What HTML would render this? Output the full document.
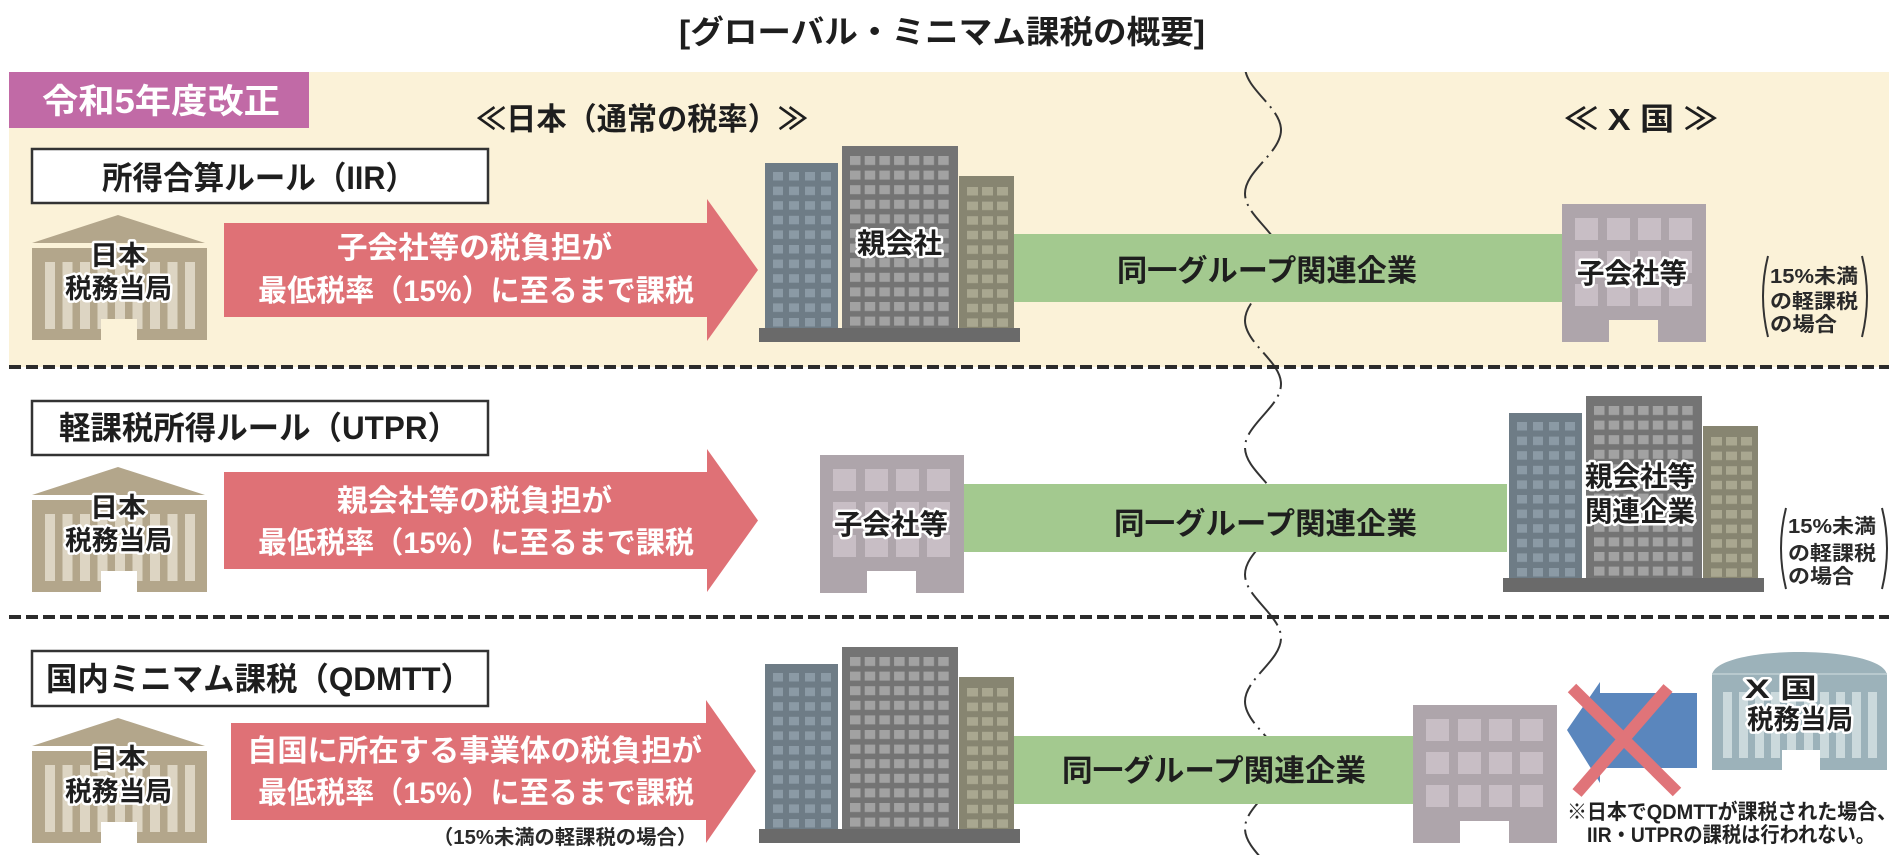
<!DOCTYPE html>
<html lang="ja">
<head>
<meta charset="utf-8">
<title>グローバル・ミニマム課税の概要</title>
<style>
  html,body{margin:0;padding:0;background:#ffffff;}
  svg{display:block;}
  .t{font-family:"Liberation Sans","Noto Sans CJK JP",sans-serif;font-weight:700;}
  .halo{stroke:#ffffff;stroke-width:5px;paint-order:stroke;stroke-linejoin:round;}
</style>
</head>
<body>
<svg width="1900" height="855" viewBox="0 0 1900 855" xmlns="http://www.w3.org/2000/svg">
  <defs>
    <pattern id="pL" patternUnits="userSpaceOnUse" x="14" y="26" width="16" height="14.6">
      <rect width="10" height="8.5" fill="#8b9aa5"/>
    </pattern>
    <pattern id="pM" patternUnits="userSpaceOnUse" x="91" y="10" width="14.7" height="14.6">
      <rect width="10.5" height="9" fill="#a2a2a2"/>
    </pattern>
    <pattern id="pR" patternUnits="userSpaceOnUse" x="208" y="41" width="15" height="14.6">
      <rect width="11" height="8.5" fill="#a9a790"/>
    </pattern>

    <!-- cluster of three office buildings (local origin = top-left of slab area) -->
    <g id="cluster">
      <rect x="6" y="17" width="73" height="166" fill="#6e7c86"/>
      <rect x="14" y="26" width="58" height="155" fill="url(#pL)"/>
      <rect x="83" y="0" width="116" height="183" fill="#747474"/>
      <rect x="91" y="10" width="99" height="170" fill="url(#pM)"/>
      <rect x="200" y="30" width="55" height="153" fill="#878571"/>
      <rect x="208" y="41" width="41" height="140" fill="url(#pR)"/>
      <rect x="0" y="182" width="261" height="14" fill="#6a6a6a"/>
    </g>

    <!-- subsidiary building -->
    <g id="sub">
      <path d="M0,0 H144 V138 H96 V116 H47 V138 H0 Z" fill="#aea5ab"/>
      <g fill="#c8bec5">
        <rect x="13" y="14" width="23" height="22"/><rect x="45" y="14" width="23" height="22"/>
        <rect x="76" y="14" width="23" height="22"/><rect x="107" y="14" width="23" height="22"/>
        <rect x="13" y="47" width="23" height="22"/><rect x="45" y="47" width="23" height="22"/>
        <rect x="76" y="47" width="23" height="22"/><rect x="107" y="47" width="23" height="22"/>
        <rect x="13" y="80" width="23" height="22"/><rect x="45" y="80" width="23" height="22"/>
        <rect x="76" y="80" width="23" height="22"/><rect x="107" y="80" width="23" height="22"/>
      </g>
    </g>

    <!-- Japan tax authority building -->
    <g id="tax">
      <polygon points="0,28 86,0 173,28" fill="#b3a68b"/>
      <rect x="0" y="33" width="175" height="92" fill="#b3a68b"/>
      <g fill="#ddd5c3">
        <rect x="13" y="47" width="10" height="67"/>
        <rect x="30.5" y="47" width="10" height="67"/>
        <rect x="48" y="47" width="10" height="67"/>
        <rect x="65.5" y="47" width="10" height="67"/>
        <rect x="83" y="47" width="10" height="67"/>
        <rect x="100.5" y="47" width="10" height="67"/>
        <rect x="118" y="47" width="10" height="67"/>
        <rect x="135.5" y="47" width="10" height="67"/>
        <rect x="153" y="47" width="10" height="67"/>
      </g>
      <text class="t halo" x="58" y="50" textLength="56" lengthAdjust="spacingAndGlyphs" font-size="27" fill="#1e1e1e">日本</text>
      <text class="t halo" x="33" y="83" textLength="107" lengthAdjust="spacingAndGlyphs" font-size="27" fill="#1e1e1e">税務当局</text>
    </g>

    <clipPath id="waveclip"><rect x="0" y="72" width="1900" height="790"/></clipPath>
  </defs>

  <!-- background of row 1 -->
  <rect x="9" y="72" width="1880" height="295" fill="#fbf2d8"/>

  <!-- title -->
  <text class="t" x="679" y="43" textLength="526" lengthAdjust="spacingAndGlyphs" font-size="32" fill="#1e1e1e">[グローバル・ミニマム課税の概要]</text>

  <!-- pink tag -->
  <rect x="9" y="72" width="300" height="56" fill="#c16aa6"/>
  <text class="t" x="42" y="113" textLength="238" lengthAdjust="spacingAndGlyphs" font-size="34" fill="#ffffff">令和5年度改正</text>

  <!-- column headers -->
  <text class="t" x="476" y="130" textLength="332" lengthAdjust="spacingAndGlyphs" font-size="31" fill="#1e1e1e">≪日本（通常の税率）≫</text>
  <text class="t" x="1564" y="130" textLength="154" lengthAdjust="spacingAndGlyphs" font-size="31" fill="#1e1e1e">≪ X 国 ≫</text>

  <!-- wave border line -->
  <path clip-path="url(#waveclip)" fill="none" stroke="#333333" stroke-width="2" stroke-dasharray="42 6 2 6"
    d="M1245,66.5
       C1245,89.4 1281,107.1 1281,130
       C1281,152.9 1245,170.6 1245,193.5
       C1245,216.4 1281,234.1 1281,257
       C1281,279.9 1245,297.6 1245,320.5
       C1245,343.4 1281,361.1 1281,384
       C1281,406.9 1245,424.6 1245,447.5
       C1245,470.4 1281,488.1 1281,511
       C1281,533.9 1245,551.6 1245,574.5
       C1245,597.4 1281,615.1 1281,638
       C1281,660.9 1245,678.6 1245,701.5
       C1245,724.4 1281,742.1 1281,765
       C1281,787.9 1245,805.6 1245,828.5
       C1245,851.4 1281,869.1 1281,892"/>

  <!-- separators -->
  <line x1="9" y1="367" x2="1889" y2="367" stroke="#2b2b2b" stroke-width="4" stroke-dasharray="12 5"/>
  <line x1="9" y1="617" x2="1889" y2="617" stroke="#2b2b2b" stroke-width="4" stroke-dasharray="12 5"/>

  <!-- ============ ROW 1 : IIR ============ -->
  <rect x="32" y="149" width="456" height="54" fill="#ffffff" stroke="#333333" stroke-width="2.5"/>
  <text class="t" x="102" y="189" textLength="314" lengthAdjust="spacingAndGlyphs" font-size="32" fill="#1e1e1e">所得合算ルール（IIR）</text>

  <use href="#tax" transform="translate(32,215)"/>
  <rect x="101" y="319" width="36" height="22" fill="#fbf2d8"/>

  <polygon points="224,223 707,223 707,199 758,270 707,341 707,317 224,317" fill="#df7176"/>
  <text class="t" x="337" y="258" textLength="275" lengthAdjust="spacingAndGlyphs" font-size="30" fill="#ffffff">子会社等の税負担が</text>
  <text class="t" x="258" y="301" textLength="436" lengthAdjust="spacingAndGlyphs" font-size="30" fill="#ffffff">最低税率（15%）に至るまで課税</text>

  <rect x="1014" y="234" width="548" height="68" fill="#a3c98f"/>
  <text class="t" x="1117" y="281" textLength="300" lengthAdjust="spacingAndGlyphs" font-size="30" fill="#1e1e1e">同一グループ関連企業</text>

  <use href="#cluster" transform="translate(759,146)"/>
  <text class="t halo" x="857" y="253" textLength="85" lengthAdjust="spacingAndGlyphs" font-size="28" fill="#1e1e1e">親会社</text>

  <use href="#sub" transform="translate(1562,204)"/>
  <text class="t halo" x="1577" y="283" textLength="110" lengthAdjust="spacingAndGlyphs" font-size="28" fill="#1e1e1e">子会社等</text>

  <path d="M1768,256 Q1758,296 1768,337" fill="none" stroke="#333" stroke-width="2"/>
  <path d="M1862,256 Q1872,296 1862,337" fill="none" stroke="#333" stroke-width="2"/>
  <text class="t" x="1770" y="283" textLength="88" lengthAdjust="spacingAndGlyphs" font-size="20" fill="#2a2a2a">15%未満</text>
  <text class="t" x="1770" y="308" textLength="88" lengthAdjust="spacingAndGlyphs" font-size="20" fill="#2a2a2a">の軽課税</text>
  <text class="t" x="1770" y="331" textLength="67" lengthAdjust="spacingAndGlyphs" font-size="20" fill="#2a2a2a">の場合</text>

  <!-- ============ ROW 2 : UTPR ============ -->
  <rect x="32" y="401" width="456" height="54" fill="#ffffff" stroke="#333333" stroke-width="2.5"/>
  <text class="t" x="59" y="439" textLength="400" lengthAdjust="spacingAndGlyphs" font-size="32" fill="#1e1e1e">軽課税所得ルール（UTPR）</text>

  <use href="#tax" transform="translate(32,467)"/>
  <rect x="101" y="571" width="36" height="22" fill="#ffffff"/>

  <polygon points="224,472 707,472 707,449 758,520.5 707,592 707,569 224,569" fill="#df7176"/>
  <text class="t" x="337" y="511" textLength="275" lengthAdjust="spacingAndGlyphs" font-size="30" fill="#ffffff">親会社等の税負担が</text>
  <text class="t" x="258" y="553" textLength="436" lengthAdjust="spacingAndGlyphs" font-size="30" fill="#ffffff">最低税率（15%）に至るまで課税</text>

  <rect x="963" y="484" width="544" height="68" fill="#a3c98f"/>
  <text class="t" x="1114" y="534" textLength="303" lengthAdjust="spacingAndGlyphs" font-size="30" fill="#1e1e1e">同一グループ関連企業</text>

  <use href="#sub" transform="translate(820,455)"/>
  <text class="t halo" x="834" y="534" textLength="114" lengthAdjust="spacingAndGlyphs" font-size="28" fill="#1e1e1e">子会社等</text>

  <use href="#cluster" transform="translate(1503,396)"/>
  <text class="t halo" x="1585" y="486" textLength="110" lengthAdjust="spacingAndGlyphs" font-size="28" fill="#1e1e1e">親会社等</text>
  <text class="t halo" x="1585" y="521" textLength="110" lengthAdjust="spacingAndGlyphs" font-size="28" fill="#1e1e1e">関連企業</text>

  <path d="M1786,508 Q1776,548 1786,589" fill="none" stroke="#333" stroke-width="2"/>
  <path d="M1882,508 Q1892,548 1882,589" fill="none" stroke="#333" stroke-width="2"/>
  <text class="t" x="1788" y="533" textLength="88" lengthAdjust="spacingAndGlyphs" font-size="20" fill="#2a2a2a">15%未満</text>
  <text class="t" x="1788" y="560" textLength="88" lengthAdjust="spacingAndGlyphs" font-size="20" fill="#2a2a2a">の軽課税</text>
  <text class="t" x="1788" y="583" textLength="66" lengthAdjust="spacingAndGlyphs" font-size="20" fill="#2a2a2a">の場合</text>

  <!-- ============ ROW 3 : QDMTT ============ -->
  <rect x="32" y="651" width="456" height="55" fill="#ffffff" stroke="#333333" stroke-width="2.5"/>
  <text class="t" x="46" y="690" textLength="426" lengthAdjust="spacingAndGlyphs" font-size="32" fill="#1e1e1e">国内ミニマム課税（QDMTT）</text>

  <use href="#tax" transform="translate(32,718)"/>
  <rect x="101" y="822" width="36" height="22" fill="#ffffff"/>

  <polygon points="231,723 706,723 706,700 756,771 706,843 706,820 231,820" fill="#df7176"/>
  <text class="t" x="247" y="761" textLength="455" lengthAdjust="spacingAndGlyphs" font-size="30" fill="#ffffff">自国に所在する事業体の税負担が</text>
  <text class="t" x="258" y="803" textLength="436" lengthAdjust="spacingAndGlyphs" font-size="30" fill="#ffffff">最低税率（15%）に至るまで課税</text>
  <text class="t" x="433" y="844" textLength="264" lengthAdjust="spacingAndGlyphs" font-size="20" fill="#2a2a2a">（15%未満の軽課税の場合）</text>

  <rect x="1014" y="736" width="400" height="68" fill="#a3c98f"/>
  <text class="t" x="1062" y="781" textLength="304" lengthAdjust="spacingAndGlyphs" font-size="30" fill="#1e1e1e">同一グループ関連企業</text>

  <use href="#cluster" transform="translate(759,647)"/>
  <use href="#sub" transform="translate(1413,705)"/>

  <!-- blue arrow + red X -->
  <polygon points="1567,730 1600,682 1600,693 1697,693 1697,768 1600,768 1600,783" fill="#5a86bd"/>
  <line x1="1572" y1="688" x2="1677" y2="792" stroke="#e07479" stroke-width="12"/>
  <line x1="1668" y1="688" x2="1577" y2="793" stroke="#e07479" stroke-width="12"/>

  <!-- X country tax authority -->
  <path d="M1712,676 C1712,644 1887,644 1887,676 Z" fill="#9cb2ba"/>
  <rect x="1712" y="675" width="175" height="95" fill="#9cb2ba"/>
  <rect x="1712" y="673" width="175" height="2" fill="#b8c9ce"/>
  <g fill="#cbd9dc">
    <rect x="1723" y="692" width="9" height="66"/>
    <rect x="1739" y="692" width="9" height="66"/>
    <rect x="1755" y="692" width="9" height="66"/>
    <rect x="1771" y="692" width="9" height="66"/>
    <rect x="1787" y="692" width="9" height="66"/>
    <rect x="1804" y="692" width="9" height="66"/>
    <rect x="1820" y="692" width="9" height="66"/>
    <rect x="1836" y="692" width="9" height="66"/>
    <rect x="1852" y="692" width="9" height="66"/>
    <rect x="1868" y="692" width="9" height="66"/>
  </g>
  <rect x="1782" y="750" width="38" height="21" fill="#ffffff"/>
  <text class="t halo" x="1745" y="698" textLength="72" lengthAdjust="spacingAndGlyphs" font-size="27" fill="#1e1e1e">X 国</text>
  <text class="t halo" x="1747" y="729" textLength="106" lengthAdjust="spacingAndGlyphs" font-size="27" fill="#1e1e1e">税務当局</text>

  <text class="t" x="1567" y="819" textLength="330" lengthAdjust="spacingAndGlyphs" font-size="21" fill="#222222">※日本でQDMTTが課税された場合、</text>
  <text class="t" x="1587" y="842" textLength="288" lengthAdjust="spacingAndGlyphs" font-size="21" fill="#222222">IIR・UTPRの課税は行われない。</text>
</svg>
</body>
</html>
